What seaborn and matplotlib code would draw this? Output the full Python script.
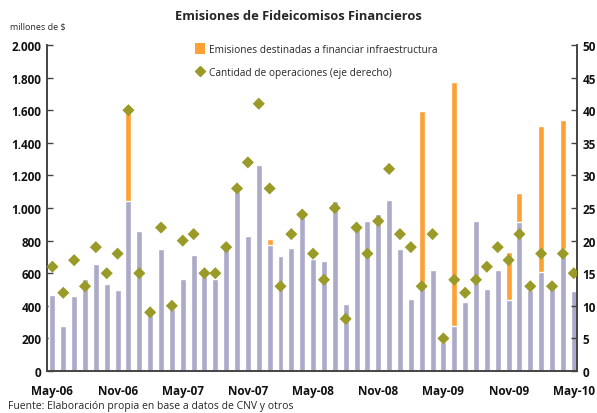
import matplotlib
matplotlib.use('Agg')
import matplotlib.pyplot as plt
from matplotlib.lines import Line2D
from matplotlib.patches import Patch
from matplotlib.ticker import FuncFormatter, FixedLocator
import pandas as pd
import seaborn as sns

# monthly data May-06 .. May-10
months = pd.date_range('2006-05-01', periods=49, freq='MS').strftime('%Y-%m').tolist()

base = [464, 274, 458, 566, 658, 535, 498, 1046, 856, 341, 746, 382, 566,
        713, 586, 566, 750, 1103, 829, 1265, 776, 707, 756, 948, 688, 676,
        1044, 413, 876, 921, 964, 1050, 746, 443, 520, 621, 178, 274, 423,
        921, 505, 621, 433, 915, 498, 605, 519, 750, 492]

infra = [0, 0, 0, 0, 0, 0, 0, 586, 0, 0, 0, 0, 0,
         0, 0, 0, 0, 0, 0, 0, 35, 0, 0, 0, 0, 0,
         0, 0, 0, 0, 0, 0, 0, 0, 1076, 0, 0, 1499, 0,
         0, 0, 0, 298, 178, 0, 899, 0, 790, 0]

operaciones = [16, 12, 17, 13, 19, 15, 18, 40, 15, 9, 22, 10, 20,
               21, 15, 15, 19, 28, 32, 41, 28, 13, 21, 24, 18, 14,
               25, 8, 22, 18, 23, 31, 21, 19, 13, 21, 5, 14, 12,
               14, 16, 19, 17, 21, 13, 18, 13, 18, 15]

tick_labels = ['May-06', 'Nov-06', 'May-07', 'Nov-07', 'May-08',
               'Nov-08', 'May-09', 'Nov-09', 'May-10']

df = pd.DataFrame({'mes': months, 'base': base, 'infra': infra,
                   'ops': operaciones})
df['total'] = df['base'] + df['infra']
df['pos'] = range(len(df))

sns.set_style('white')
plt.rcParams['font.family'] = ['Open Sans', 'DejaVu Sans']

grey = '#abaac8'
orange = '#ffa035'
olive = '#9a9a28'

fig = plt.figure(figsize=(5.97, 4.14), dpi=100)
ax = fig.add_axes([0.0787, 0.1014, 0.8878, 0.7874])

# orange = total height, grey base drawn over it
sns.barplot(data=df, x='mes', y='total', color=orange, width=0.55,
            saturation=1, ax=ax)
sns.barplot(data=df, x='mes', y='base', color=grey, width=0.55,
            saturation=1, ax=ax)

ax2 = ax.twinx()
sns.scatterplot(data=df, x='pos', y='ops', marker='D', color=olive, s=38,
                edgecolor='none', ax=ax2, zorder=5)

ax.set_xlim(-0.5, 48.3)
ax.set_ylim(0, 2000)
ax2.set_ylim(0, 50)
ax.set_yticks(range(0, 2001, 200))
ax2.set_yticks(range(0, 51, 5))
ax.yaxis.set_major_formatter(FuncFormatter(lambda v, p: f'{int(v):,}'.replace(',', '.')))

ax.set_xticks(range(0, 49, 6))
ax.set_xticklabels(tick_labels)
ax.xaxis.set_minor_locator(FixedLocator([5.5 + 6 * k for k in range(8)]))
ax.tick_params(axis='x', which='major', length=0, pad=9)
ax.tick_params(axis='x', which='minor', length=3, direction='in', width=1, color='#444444')
ax.tick_params(axis='y', length=4, direction='in', width=1, color='#444444', pad=4)
ax2.tick_params(axis='y', length=4, direction='in', width=1, color='#444444', pad=4)
for a in (ax, ax2):
    for lab in a.get_xticklabels() + a.get_yticklabels():
        lab.set_fontsize(8.5)
        lab.set_fontweight('bold')
        lab.set_color('#111111')

ax.set_xlabel('')
ax.set_ylabel('')
ax2.set_xlabel('')
ax2.set_ylabel('')
for a in (ax, ax2):
    a.spines['top'].set_visible(False)
    for s in ('left', 'right', 'bottom'):
        a.spines[s].set_color('#444444')
        a.spines[s].set_linewidth(1.2)

handles = [Patch(facecolor=orange, edgecolor='none'),
           Line2D([], [], marker='D', linestyle='none', color=olive, markersize=5.5)]
leg = ax.legend(handles, ['Emisiones destinadas a financiar infraestructura',
                          'Cantidad de operaciones (eje derecho)'],
                loc='upper left', bbox_to_anchor=(0.28, 1.005), frameon=False,
                fontsize=7.3, handlelength=0.9, handleheight=1.3, handletextpad=0.4,
                labelspacing=1.1, borderaxespad=0, borderpad=0)

fig.text(0.5, 0.96, 'Emisiones de Fideicomisos Financieros', ha='center',
         va='center', fontsize=9.3, fontweight='bold')
fig.text(0.017, 0.935, 'millones de $', ha='left', va='center', fontsize=6.5)
fig.text(0.013, 0.018, 'Fuente: Elaboración propia en base a datos de CNV y otros',
         ha='left', va='center', fontsize=7.5)

fig.savefig('out.png', dpi=100)
